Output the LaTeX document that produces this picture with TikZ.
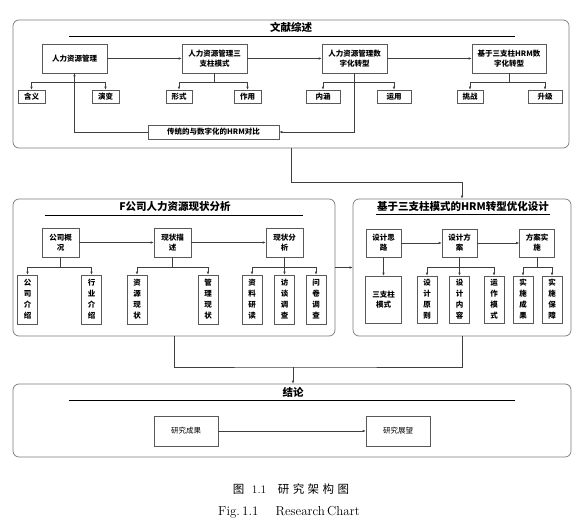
\documentclass[tikz,border=0pt]{standalone}
\usepackage{fontspec}
\newfontfamily\cjk{Noto Sans CJK SC}
\newfontfamily\capcjk{Noto Sans CJK SC}[LetterSpace=30]
\usetikzlibrary{arrows.meta}
\definecolor{lc}{HTML}{3F3F3F}
\definecolor{bc}{HTML}{595959}
\definecolor{pc}{HTML}{7A7A7A}
\begin{document}
\begin{tikzpicture}[x=1pt,y=-1pt,
  box/.style={draw=bc, line width=0.6pt, fill=white, align=center, inner sep=0pt,
    font=\cjk\bfseries\fontsize{7.5}{10}\selectfont},
  vbox/.style={box, minimum width=20pt, minimum height=49pt,
    font=\cjk\bfseries\fontsize{7.5}{11}\selectfont},
  sbox/.style={box, minimum height=13pt},
  panel/.style={draw=pc, line width=0.7pt, rounded corners=6pt, inner sep=0pt},
  ln/.style={draw=lc, line width=0.6pt},
  arr/.style={ln, -{Latex[length=3pt,width=2.6pt]}},
  ttl/.style={font=\cjk\bfseries\fontsize{10.5}{12}\selectfont, inner sep=0pt},
  uline/.style={draw=black, line width=0.6pt}
]
\useasboundingbox (0,0) rectangle (580,518);

% ---------- panels ----------
\node[panel, minimum width=556pt, minimum height=128pt] (P1) at (291,84) {};
\node[panel, minimum width=322pt, minimum height=137pt] (P2) at (174,267.5) {};
\node[panel, minimum width=218pt, minimum height=137pt] (P3) at (462,267.5) {};
\node[panel, minimum width=558pt, minimum height=73pt] (P4) at (292,420.5) {};

% ---------- panel 1: 文献综述 ----------
\node[ttl] (t1) at (291,27) {文献综述};
\draw[uline] (69,36) -- (515,36);

\node[box, minimum width=65pt, minimum height=29pt] (a1) at (74.5,58.5) {人力资源管理};
\node[box, minimum width=65pt, minimum height=29pt] (a2) at (214.5,58.5) {人力资源管理三\\支柱模式};
\node[box, minimum width=65pt, minimum height=29pt] (a3) at (354.5,58.5) {人力资源管理数\\字化转型};
\node[box, minimum width=74pt, minimum height=29pt] (a4) at (509,58.5) {基于三支柱HRM数\\字化转型};

\node[sbox, minimum width=27pt] (s1) at (31.5,96.5) {含义};
\node[sbox, minimum width=27pt] (s2) at (105.5,96.5) {演变};
\node[sbox, minimum width=26pt] (s3) at (179,96.5) {形式};
\node[sbox, minimum width=27pt] (s4) at (247.5,96.5) {作用};
\node[sbox, minimum width=34pt] (s5) at (323,96.5) {内涵};
\node[sbox, minimum width=34pt] (s6) at (394,96.5) {运用};
\node[sbox, minimum width=26pt] (s7) at (470,96.5) {挑战};
\node[sbox, minimum width=34pt] (s8) at (545,96.5) {升级};

\node[box, minimum width=131pt, minimum height=14pt] (fb) at (213.5,132) {传统的与数字化的HRM对比};

\draw[arr] (a1) -- (a2);
\draw[arr] (a2) -- (a3);
\draw[arr] (a3) -- (a4);

\draw[arr] (a1.south) -- ++(0,9) -| (s1.north);
\draw[arr] (a1.south) -- ++(0,9) -| (s2.north);
\draw[arr] (a2.south) -- ++(0,9) -| (s3.north);
\draw[arr] (a2.south) -- ++(0,9) -| (s4.north);
\draw[arr] (a3.south) -- ++(0,9) -| (s5.north);
\draw[arr] (a3.south) -- ++(0,9) -| (s6.north);
\draw[arr] (a4.south) -- ++(0,9) -| (s7.north);
\draw[arr] (a4.south) -- ++(0,9) -| (s8.north);

\draw[arr] (a3.south) |- (fb.east);
\draw[arr] (fb.west) -| (a1.south);

% ---------- panel 2: F公司 ----------
\node[ttl] (t2) at (175,207) {F公司人力资源现状分析};
\draw[uline] (45,215) -- (303,215);

\node[box, minimum width=37pt, minimum height=29pt] (b1) at (60.5,242.5) {公司概\\况};
\node[box, minimum width=37pt, minimum height=29pt] (b2) at (172.5,242.5) {现状描\\述};
\node[box, minimum width=37pt, minimum height=29pt] (b3) at (284.5,242.5) {现状分\\析};

\node[vbox] (v1) at (27.5,299.5) {公\\司\\介\\绍};
\node[vbox] (v2) at (91.5,299.5) {行\\业\\介\\绍};
\node[vbox] (v3) at (137,299.5) {资\\源\\现\\状};
\node[vbox] (v4) at (208,299.5) {管\\理\\现\\状};
\node[vbox] (v5) at (252,299.5) {资\\料\\研\\读};
\node[vbox] (v6) at (284.5,299.5) {访\\谈\\调\\查};
\node[vbox] (v7) at (316,299.5) {问\\卷\\调\\查};

\draw[arr] (b1) -- (b2);
\draw[arr] (b2) -- (b3);
\draw[arr] (b1.south) -- ++(0,10) -| (v1.north);
\draw[arr] (b1.south) -- ++(0,10) -| (v2.north);
\draw[arr] (b2.south) -- ++(0,10) -| (v3.north);
\draw[arr] (b2.south) -- ++(0,10) -| (v4.north);
\draw[arr] (b3.south) -- ++(0,10) -| (v5.north);
\draw[arr] (b3.south) -- (v6.north);
\draw[arr] (b3.south) -- ++(0,10) -| (v7.north);

% ---------- panel 3: 优化设计 ----------
\node[ttl] (t3) at (463,207) {基于三支柱模式的HRM转型优化设计};
\draw[uline] (376,214.5) -- (550,214.5);

\node[box, minimum width=35pt, minimum height=28pt] (c1) at (383.5,243) {设计思\\路};
\node[box, minimum width=35pt, minimum height=28pt] (c2) at (459.5,243) {设计方\\案};
\node[box, minimum width=35pt, minimum height=28pt] (c3) at (537,243) {方案实\\施};

\node[box, minimum width=36pt, minimum height=47pt] (d0) at (383.5,299.5) {三支柱\\模式};
\node[vbox, minimum height=47pt] (d1) at (427,299.5) {设\\计\\原\\则};
\node[vbox, minimum height=47pt] (d2) at (459.5,299.5) {设\\计\\内\\容};
\node[vbox, minimum height=47pt] (d3) at (494,299.5) {运\\作\\模\\式};
\node[vbox, minimum height=47pt] (d4) at (523,299.5) {实\\施\\成\\果};
\node[vbox, minimum height=47pt] (d5) at (552,299.5) {实\\施\\保\\障};

\draw[arr] (c1) -- (c2);
\draw[arr] (c2) -- (c3);
\draw[arr] (c1) -- (d0);
\draw[arr] (c2.south) -- ++(0,10) -| (d1.north);
\draw[arr] (c2.south) -- (d2.north);
\draw[arr] (c2.south) -- ++(0,10) -| (d3.north);
\draw[arr] (c3.south) -- ++(0,10) -| (d4.north);
\draw[arr] (c3.south) -- ++(0,10) -| (d5.north);

% ---------- panel 4: 结论 ----------
\node[ttl] (t4) at (293,392) {结论};
\draw[uline] (69,400) -- (515,400);

\node[box, minimum width=64pt, minimum height=30pt, font=\cjk\fontsize{7.5}{10}\selectfont] (e1) at (186,431) {研究成果};
\node[box, minimum width=64pt, minimum height=30pt, font=\cjk\fontsize{7.5}{10}\selectfont] (e2) at (398,431) {研究展望};
\draw[arr] (e1) -- (e2);

% ---------- panel links ----------
\draw[arr] (P1.south) -- ++(0,34) -| (P3.north);
\draw[arr] (P2.east) -- (P3.west);
\coordinate (jn) at (293,367);
\draw[ln] (P2.south) |- (jn) -| (P3.south);
\draw[arr] (jn) -- (jn |- P4.north);

% ---------- caption ----------
\node[inner sep=0pt, font=\fontsize{11.5}{13}\selectfont] (cap1) at (291,489)
  {{\capcjk 图}\ \ 1.1\quad{\capcjk 研究架构图}};
\node[inner sep=0pt, font=\fontsize{13}{15}\selectfont] (cap2) at (289,512)
  {Fig.\,1.1\quad\ Research\,Chart};
\end{tikzpicture}
\end{document}
